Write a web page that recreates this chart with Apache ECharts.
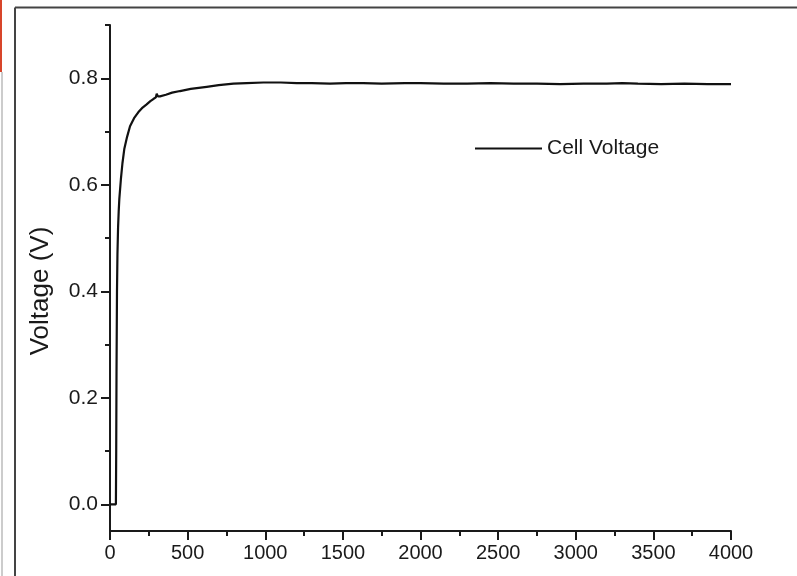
<!DOCTYPE html>
<html>
<head>
<meta charset="utf-8">
<script src="https://cdn.jsdelivr.net/npm/echarts@6/dist/echarts.min.js"></script>
<style>
  html, body { margin: 0; padding: 0; background: #fff; }
  #chart { width: 797px; height: 576px; }
</style>
</head>
<body>
<div id="chart"></div>
<script>
// time (s) and cell voltage (V)
var timeSec = [0, 38, 40, 42, 45, 48, 52, 56, 60, 70, 80, 92, 110, 129, 155, 182, 210, 236, 260, 279, 295, 301, 308, 322, 360, 400, 451, 520, 623, 700, 795, 880, 988, 1100, 1203, 1300, 1417, 1520, 1631, 1750, 1900, 2000, 2150, 2300, 2450, 2600, 2750, 2900, 3050, 3200, 3300, 3400, 3550, 3700, 3850, 4000];
var voltage = [0, 0, 0.10, 0.25, 0.40, 0.47, 0.52, 0.55, 0.573, 0.61, 0.64, 0.667, 0.690, 0.710, 0.725, 0.736, 0.745, 0.751, 0.757, 0.761, 0.764, 0.771, 0.766, 0.766, 0.769, 0.773, 0.776, 0.780, 0.784, 0.787, 0.790, 0.791, 0.792, 0.792, 0.791, 0.791, 0.790, 0.791, 0.791, 0.790, 0.791, 0.791, 0.790, 0.790, 0.791, 0.790, 0.790, 0.789, 0.790, 0.790, 0.791, 0.790, 0.789, 0.790, 0.789, 0.789];

var xMajorTicks = [0, 500, 1000, 1500, 2000, 2500, 3000, 3500, 4000];
var yMajorTicks = [0, 0.2, 0.4, 0.6, 0.8];
var yMinorTicks = [0.1, 0.3, 0.5, 0.7, 0.9];

var seriesData = timeSec.map(function(t, i){ return [t, voltage[i]]; });

var chart = echarts.init(document.getElementById('chart'), null, {renderer: 'canvas'});
var font = 'Liberation Sans';
var ink = '#1a1a1a';

chart.setOption({
  animation: false,
  backgroundColor: '#fff',
  textStyle: { fontFamily: font },
  grid: { left: 110, right: 66, top: 25, bottom: 45 },
  legend: {
    left: 470, top: 133,
    itemWidth: 67, itemHeight: 2,
    icon: 'rect',
    textStyle: { fontFamily: font, fontSize: 21, color: ink },
    data: ['Cell Voltage']
  },
  graphic: [
    // page frame around the figure
    { type: 'rect', left: 0, top: 0, shape: { width: 2, height: 72 }, style: { fill: '#d8452a' } },
    { type: 'line', shape: { x1: 2, y1: 72, x2: 2, y2: 576 }, style: { stroke: '#999', lineWidth: 1 } },
    { type: 'line', shape: { x1: 15, y1: 7.5, x2: 797, y2: 7.5 }, style: { stroke: '#444', lineWidth: 2 } },
    { type: 'line', shape: { x1: 15, y1: 7.5, x2: 15, y2: 576 }, style: { stroke: '#444', lineWidth: 2 } }
  ],
  xAxis: {
    type: 'value',
    min: 0, max: 4000, interval: 500,
    axisLine: { onZero: false, lineStyle: { color: ink, width: 2 } },
    axisTick: { length: 9, lineStyle: { color: ink, width: 2 } },
    minorTick: { show: true, splitNumber: 2, length: 5, lineStyle: { color: ink, width: 2 } },
    splitLine: { show: false },
    axisLabel: {
      margin: 12, fontSize: 20, color: ink, fontFamily: font,
      customValues: xMajorTicks,
      formatter: function(v){ return String(v); }
    }
  },
  yAxis: [
    {
      type: 'value',
      min: -0.05, max: 0.9,
      name: 'Voltage (V)',
      nameLocation: 'middle',
      nameGap: 56,
      nameTextStyle: { fontSize: 26, color: ink, fontFamily: font, padding: [0, 26, 0, 0] },
      axisLine: { onZero: false, lineStyle: { color: ink, width: 2 } },
      axisTick: { length: 9, lineStyle: { color: ink, width: 2 }, customValues: yMajorTicks },
      splitLine: { show: false },
      axisLabel: {
        margin: 12, fontSize: 21, color: ink, fontFamily: font,
        customValues: yMajorTicks,
        formatter: function(v){ return v.toFixed(1); }
      }
    },
    {
      // minor ticks only
      type: 'value',
      position: 'left',
      min: -0.05, max: 0.9,
      axisLine: { show: false, onZero: false },
      axisTick: { length: 5, lineStyle: { color: ink, width: 2 }, customValues: yMinorTicks },
      splitLine: { show: false },
      axisLabel: { show: false }
    }
  ],
  series: [
    {
      name: 'Cell Voltage',
      type: 'line',
      yAxisIndex: 0,
      showSymbol: false,
      symbol: 'none',
      color: '#111',
      lineStyle: { color: '#111', width: 2.2 },
      data: seriesData
    }
  ]
});
</script>
</body>
</html>
